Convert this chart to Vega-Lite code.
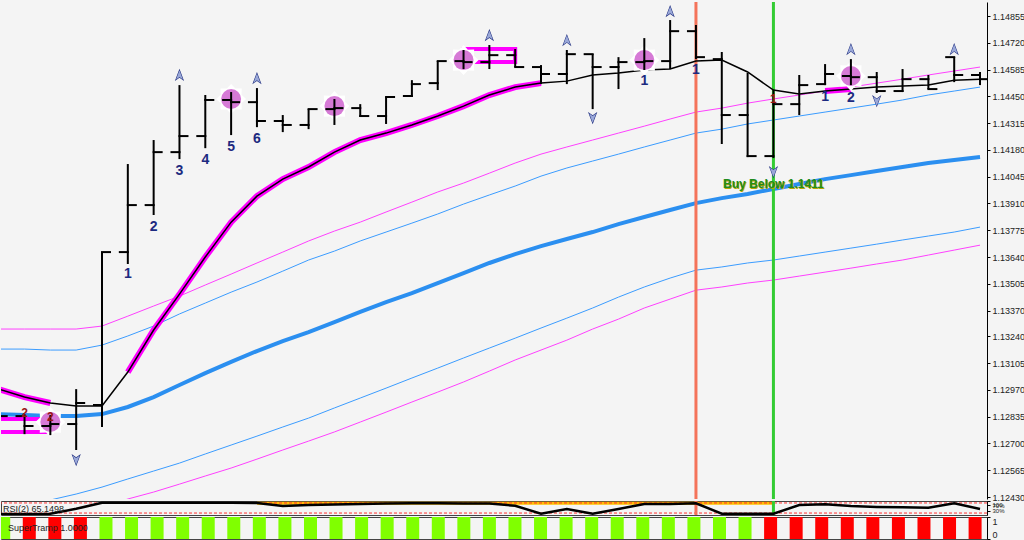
{
"$schema": "https://vega.github.io/schema/vega-lite/v6.json",
"background": "#f4f4f4",
"padding": 0,
"spacing": 2,
"bounds": "flush",
"config": {"view": {"stroke": null}, "axis": {"labelFont": "Liberation Sans", "labelFontSize": 9, "labelColor": "#222", "domainColor": "#000", "tickColor": "#000", "grid": false, "labelOverlap": false}},
"resolve": {"scale": {"x": "independent", "y": "independent", "color": "independent", "shape": "independent", "size": "independent"}},
"datasets": {
"bars": [
{"i":-1,"o":1.12838,"h":1.12858,"l":1.12818,"c":1.12838,"f":1.12974,"ma":1.12848,"um":1.13277,"ub":1.13176,"lb":1.12279,"lm":1.12203,"rsi":7,"st":"up","stv":1,"hl":1},
{"i":0,"o":1.12838,"h":1.12848,"l":1.12747,"c":1.12788,"f":1.12934,"ma":1.12843,"um":1.13277,"ub":1.13176,"lb":1.12354,"lm":1.12253,"rsi":7,"st":"down","stv":1,"hl":1},
{"i":1,"o":1.12788,"h":1.12843,"l":1.12742,"c":1.12798,"f":1.12904,"ma":1.12838,"um":1.13277,"ub":1.13171,"lb":1.12415,"lm":1.12304,"rsi":9,"st":"down","stv":1,"hl":1},
{"i":2,"o":1.12798,"h":1.12974,"l":1.12667,"c":1.12904,"f":1.12889,"ma":1.12838,"um":1.13277,"ub":1.13171,"lb":1.12445,"lm":1.12344,"rsi":44,"st":"down","stv":1},
{"i":3,"o":1.12894,"h":1.13665,"l":1.12783,"c":1.13665,"f":1.12889,"ma":1.12848,"um":1.13292,"ub":1.13196,"lb":1.1248,"lm":1.12379,"rsi":88,"st":"up","stv":1},
{"i":4,"o":1.13665,"h":1.14109,"l":1.13605,"c":1.13902,"f":1.1306,"ma":1.12884,"um":1.13342,"ub":1.13242,"lb":1.12521,"lm":1.1242,"rsi":88,"st":"up","stv":1,"hl":2},
{"i":5,"o":1.13902,"h":1.1423,"l":1.13852,"c":1.14169,"f":1.13272,"ma":1.12934,"um":1.13393,"ub":1.13292,"lb":1.12561,"lm":1.12455,"rsi":88,"st":"up","stv":1,"hl":2},
{"i":6,"o":1.14169,"h":1.14507,"l":1.14134,"c":1.1425,"f":1.13453,"ma":1.12995,"um":1.13443,"ub":1.13353,"lb":1.12601,"lm":1.12495,"rsi":88,"st":"up","stv":1,"hl":2},
{"i":7,"o":1.1425,"h":1.14457,"l":1.14189,"c":1.14432,"f":1.1364,"ma":1.13055,"um":1.13499,"ub":1.13408,"lb":1.12647,"lm":1.12536,"rsi":88,"st":"up","stv":1,"hl":2},
{"i":8,"o":1.14432,"h":1.14472,"l":1.14255,"c":1.14421,"f":1.13816,"ma":1.13111,"um":1.13554,"ub":1.13463,"lb":1.12692,"lm":1.12576,"rsi":88,"st":"up","stv":1,"hl":2},
{"i":9,"o":1.14421,"h":1.14492,"l":1.14295,"c":1.14326,"f":1.13947,"ma":1.13166,"um":1.1361,"ub":1.13514,"lb":1.12737,"lm":1.12621,"rsi":86,"st":"up","stv":1,"hl":2},
{"i":10,"o":1.14326,"h":1.14356,"l":1.1427,"c":1.14306,"f":1.14033,"ma":1.13216,"um":1.13665,"ub":1.13569,"lb":1.12783,"lm":1.12667,"rsi":64,"st":"up","stv":1,"hl":2},
{"i":11,"o":1.14306,"h":1.14386,"l":1.14285,"c":1.14386,"f":1.14094,"ma":1.13262,"um":1.13721,"ub":1.13625,"lb":1.12828,"lm":1.12712,"rsi":72,"st":"up","stv":1,"hl":2},
{"i":12,"o":1.14386,"h":1.14437,"l":1.14306,"c":1.14391,"f":1.14169,"ma":1.13312,"um":1.13771,"ub":1.1367,"lb":1.12879,"lm":1.12758,"rsi":75,"st":"up","stv":1,"hl":2},
{"i":13,"o":1.14391,"h":1.14411,"l":1.14346,"c":1.14351,"f":1.1423,"ma":1.13363,"um":1.13816,"ub":1.13721,"lb":1.12929,"lm":1.12808,"rsi":79,"st":"up","stv":1,"hl":2},
{"i":14,"o":1.14351,"h":1.14447,"l":1.14311,"c":1.14447,"f":1.14265,"ma":1.13413,"um":1.13867,"ub":1.13766,"lb":1.12979,"lm":1.12858,"rsi":82,"st":"up","stv":1,"hl":2},
{"i":15,"o":1.14452,"h":1.14532,"l":1.14447,"c":1.14512,"f":1.14306,"ma":1.13458,"um":1.13917,"ub":1.13811,"lb":1.1303,"lm":1.12909,"rsi":84,"st":"up","stv":1,"hl":2},
{"i":16,"o":1.14517,"h":1.14628,"l":1.14482,"c":1.14628,"f":1.14351,"ma":1.13509,"um":1.13968,"ub":1.13857,"lb":1.1308,"lm":1.12959,"rsi":84,"st":"up","stv":1,"hl":2},
{"i":17,"o":1.14628,"h":1.14684,"l":1.14588,"c":1.14623,"f":1.14401,"ma":1.13559,"um":1.14013,"ub":1.13907,"lb":1.13131,"lm":1.1301,"rsi":82,"st":"up","stv":1,"hl":2},
{"i":18,"o":1.14623,"h":1.14709,"l":1.14588,"c":1.14658,"f":1.14457,"ma":1.1361,"um":1.14063,"ub":1.13953,"lb":1.13181,"lm":1.13065,"rsi":82,"st":"up","stv":1,"hl":2},
{"i":19,"o":1.14658,"h":1.14689,"l":1.14598,"c":1.14598,"f":1.14497,"ma":1.13655,"um":1.14114,"ub":1.13998,"lb":1.13231,"lm":1.13121,"rsi":66,"st":"up","stv":1,"hl":2},
{"i":20,"o":1.14598,"h":1.14608,"l":1.14512,"c":1.14563,"f":1.14517,"ma":1.13695,"um":1.14159,"ub":1.14048,"lb":1.13282,"lm":1.13171,"rsi":9,"st":"up","stv":1,"hl":2},
{"i":21,"o":1.14563,"h":1.14684,"l":1.14512,"c":1.14663,"f":1.14527,"ma":1.13731,"um":1.14195,"ub":1.14089,"lb":1.13332,"lm":1.13221,"rsi":43,"st":"up","stv":1},
{"i":22,"o":1.14663,"h":1.14663,"l":1.14386,"c":1.14598,"f":1.14558,"ma":1.13766,"um":1.1423,"ub":1.14124,"lb":1.13383,"lm":1.13277,"rsi":9,"st":"up","stv":1},
{"i":23,"o":1.14598,"h":1.14648,"l":1.14487,"c":1.14623,"f":1.14568,"ma":1.13806,"um":1.14265,"ub":1.14159,"lb":1.13438,"lm":1.13327,"rsi":43,"st":"up","stv":1},
{"i":24,"o":1.14623,"h":1.14744,"l":1.14583,"c":1.14628,"f":1.14583,"ma":1.13842,"um":1.143,"ub":1.14195,"lb":1.13489,"lm":1.13383,"rsi":79,"st":"up","stv":1},
{"i":25,"o":1.14628,"h":1.14835,"l":1.14588,"c":1.14779,"f":1.14588,"ma":1.13877,"um":1.14336,"ub":1.1423,"lb":1.13534,"lm":1.13428,"rsi":79,"st":"up","stv":1},
{"i":26,"o":1.14779,"h":1.1481,"l":1.14638,"c":1.14648,"f":1.14628,"ma":1.13912,"um":1.14371,"ub":1.14265,"lb":1.13574,"lm":1.13473,"rsi":84,"st":"up","stv":1},
{"i":27,"o":1.14638,"h":1.14674,"l":1.1421,"c":1.14356,"f":1.14633,"ma":1.13937,"um":1.14391,"ub":1.14285,"lb":1.1359,"lm":1.13489,"rsi":9,"st":"up","stv":1},
{"i":28,"o":1.14356,"h":1.14568,"l":1.14144,"c":1.14149,"f":1.14573,"ma":1.13958,"um":1.14416,"ub":1.14311,"lb":1.1361,"lm":1.13509,"rsi":9,"st":"up","stv":1},
{"i":29,"o":1.14149,"h":1.14482,"l":1.14139,"c":1.14411,"f":1.14482,"ma":1.13983,"um":1.14437,"ub":1.14331,"lb":1.13625,"lm":1.13524,"rsi":9,"st":"down","stv":1},
{"i":30,"o":1.14411,"h":1.14558,"l":1.14356,"c":1.14507,"f":1.14462,"ma":1.14008,"um":1.14457,"ub":1.14351,"lb":1.13645,"lm":1.13544,"rsi":71,"st":"down","stv":1},
{"i":31,"o":1.14512,"h":1.14613,"l":1.14507,"c":1.14563,"f":1.14477,"ma":1.14033,"um":1.14477,"ub":1.14371,"lb":1.13665,"lm":1.13564,"rsi":76,"st":"down","stv":1,"hl":3},
{"i":32,"o":1.14553,"h":1.14638,"l":1.14507,"c":1.14547,"f":1.14487,"ma":1.14053,"um":1.14497,"ub":1.14391,"lb":1.13685,"lm":1.13584,"rsi":64,"st":"down","stv":1,"hl":3},
{"i":33,"o":1.14547,"h":1.14573,"l":1.14467,"c":1.14477,"f":1.14497,"ma":1.14074,"um":1.14517,"ub":1.14411,"lb":1.13705,"lm":1.13605,"rsi":58,"st":"down","stv":1},
{"i":34,"o":1.14477,"h":1.14588,"l":1.14472,"c":1.14537,"f":1.14502,"ma":1.14094,"um":1.14537,"ub":1.14432,"lb":1.13726,"lm":1.13625,"rsi":55,"st":"down","stv":1},
{"i":35,"o":1.14537,"h":1.14558,"l":1.14487,"c":1.14487,"f":1.14507,"ma":1.14114,"um":1.14558,"ub":1.14457,"lb":1.13746,"lm":1.1365,"rsi":52,"st":"down","stv":1},
{"i":36,"o":1.14648,"h":1.14648,"l":1.14522,"c":1.14558,"f":1.14532,"ma":1.14129,"um":1.14578,"ub":1.14477,"lb":1.13766,"lm":1.13675,"rsi":84,"st":"down","stv":1},
{"i":37,"o":1.14558,"h":1.14573,"l":1.14507,"c":1.14537,"f":1.14537,"ma":1.14144,"um":1.14598,"ub":1.14497,"lb":1.13791,"lm":1.137,"rsi":43,"st":"down","stv":1}
],
"arrows": [
{"i":6,"v":1.14558,"dir":"up"},{"i":9,"v":1.14542,"dir":"up"},{"i":18,"v":1.14759,"dir":"up"},{"i":21,"v":1.14734,"dir":"up"},{"i":25,"v":1.1488,"dir":"up"},{"i":32,"v":1.14689,"dir":"up"},{"i":36,"v":1.14689,"dir":"up"},
{"i":2,"v":1.12616,"dir":"down"},{"i":22,"v":1.14341,"dir":"down"},{"i":29,"v":1.14068,"dir":"down"},{"i":33,"v":1.14426,"dir":"down"}
],
"circles": [
{"i":1,"v":1.12808},{"i":8,"v":1.14437},{"i":12,"v":1.14401},{"i":17,"v":1.14633},{"i":24,"v":1.14633},{"i":32,"v":1.14553}
],
"labels": [
{"i":4,"v":1.13554,"t":"1","k":"b"},{"i":5,"v":1.13791,"t":"2","k":"b"},{"i":6,"v":1.14074,"t":"3","k":"b"},{"i":7,"v":1.14129,"t":"4","k":"b"},{"i":8,"v":1.14195,"t":"5","k":"b"},{"i":9,"v":1.14235,"t":"6","k":"b"},
{"i":24,"v":1.14527,"t":"1","k":"b"},{"i":26,"v":1.14583,"t":"1","k":"b"},{"i":31,"v":1.14447,"t":"1","k":"b"},{"i":32,"v":1.14442,"t":"2","k":"b"},
{"i":0,"v":1.12853,"t":"2","k":"r"},{"i":1,"v":1.12833,"t":"2","k":"r"},{"i":29,"v":1.14437,"t":"1","k":"r"}
],
"rects": [
{"i":-1.5,"i2":1.0,"v1":1.12823,"v2":1.12758},
{"i":17,"i2":19,"v1":1.14689,"v2":1.14623}
],
"vlines": [{"i":26,"k":"o"},{"i":29,"k":"g"}],
"note": [{"i":29,"v":1.14008,"t":"Buy Below 1.1411"}],
"band": [{"i":9,"i2":29,"lo":74,"hi":94}],
"levels": [{"lv":86},{"lv":14}]
},
"vconcat": [
{
"width": 986, "height": 497,
"encoding": {"x": {"field": "i", "type": "quantitative", "scale": {"domain": [-0.911, 37.27], "nice": false, "zero": false}, "axis": null}},
"layer": [
{"data": {"name": "bars"}, "mark": {"type": "line", "color": "#ff40ff", "strokeWidth": 1, "clip": true},
 "encoding": {"y": {"field": "um", "type": "quantitative", "scale": {"domain": [1.1242, 1.14926], "nice": false, "zero": false}, "title": null,
  "axis": {"orient": "right", "values": [1.14855, 1.1472, 1.14585, 1.1445, 1.14315, 1.1418, 1.14045, 1.1391, 1.13775, 1.1364, 1.13505, 1.1337, 1.1324, 1.13105, 1.1297, 1.12835, 1.127, 1.12565, 1.1243], "tickCount": 50, "format": ".5f", "tickSize": 3, "labelPadding": 2, "labelFlush": false, "labelOverlap": false, "domainWidth": 1}}}},
{"data": {"name": "bars"}, "mark": {"type": "line", "color": "#ff40ff", "strokeWidth": 1, "clip": true},
 "encoding": {"y": {"field": "lm", "type": "quantitative", "scale": {"domain": [1.1242, 1.14926], "nice": false, "zero": false}, "title": null}}},
{"data": {"name": "bars"}, "mark": {"type": "line", "color": "#3b9cff", "strokeWidth": 1, "clip": true},
 "encoding": {"y": {"field": "ub", "type": "quantitative", "scale": {"domain": [1.1242, 1.14926], "nice": false, "zero": false}, "title": null}}},
{"data": {"name": "bars"}, "mark": {"type": "line", "color": "#3b9cff", "strokeWidth": 1, "clip": true},
 "encoding": {"y": {"field": "lb", "type": "quantitative", "scale": {"domain": [1.1242, 1.14926], "nice": false, "zero": false}, "title": null}}},
{"data": {"name": "bars"}, "mark": {"type": "line", "color": "#2b8ff0", "strokeWidth": 4, "clip": true},
 "encoding": {"y": {"field": "ma", "type": "quantitative", "scale": {"domain": [1.1242, 1.14926], "nice": false, "zero": false}, "title": null}}},
{"data": {"name": "vlines"}, "mark": {"type": "rule", "strokeWidth": 3},
 "encoding": {"color": {"condition": {"test": "datum.k == 'g'", "value": "#33cc33"}, "value": "#f4735a"}}},
{"data": {"name": "bars"}, "transform": [{"filter": "isValid(datum.hl)"}], "mark": {"type": "line", "color": "#ff00ff", "strokeWidth": 6, "clip": true},
 "encoding": {"y": {"field": "f", "type": "quantitative", "scale": {"domain": [1.1242, 1.14926], "nice": false, "zero": false}, "title": null}, "detail": {"field": "hl", "type": "nominal"}}},
{"data": {"name": "bars"}, "mark": {"type": "line", "color": "#000000", "strokeWidth": 1.5, "clip": true},
 "encoding": {"y": {"field": "f", "type": "quantitative", "scale": {"domain": [1.1242, 1.14926], "nice": false, "zero": false}, "title": null}}},
{"data": {"name": "rects"}, "mark": {"type": "rect", "fill": "transparent", "stroke": "#ff00ff", "strokeWidth": 4, "clip": true},
 "encoding": {"x2": {"field": "i2"}, "y": {"field": "v1", "type": "quantitative", "scale": {"domain": [1.1242, 1.14926], "nice": false, "zero": false}, "title": null}, "y2": {"field": "v2"}}},
{"data": {"name": "circles"}, "mark": {"type": "point", "shape": "M0,-1L0.287,-0.693L0.707,-0.707L0.693,-0.287L1,0L0.693,0.287L0.707,0.707L0.287,0.693L0,1L-0.287,0.693L-0.707,0.707L-0.693,0.287L-1,0L-0.693,-0.287L-0.707,-0.707L-0.287,-0.693Z", "filled": true, "color": "#ffffff", "size": 900, "opacity": 1, "clip": true},
 "encoding": {"y": {"field": "v", "type": "quantitative", "scale": {"domain": [1.1242, 1.14926], "nice": false, "zero": false}, "title": null}}},
{"data": {"name": "circles"}, "mark": {"type": "circle", "color": "#d67ad6", "size": 400, "opacity": 1, "clip": true},
 "encoding": {"y": {"field": "v", "type": "quantitative", "scale": {"domain": [1.1242, 1.14926], "nice": false, "zero": false}, "title": null}}},
{"data": {"name": "bars"}, "mark": {"type": "rule", "color": "#000000", "strokeWidth": 2, "clip": true},
 "encoding": {"y": {"field": "l", "type": "quantitative", "scale": {"domain": [1.1242, 1.14926], "nice": false, "zero": false}, "title": null}, "y2": {"field": "h"}}},
{"data": {"name": "bars"}, "mark": {"type": "rule", "color": "#000000", "strokeWidth": 2, "xOffset": -9, "x2Offset": 1, "clip": true},
 "encoding": {"x2": {"field": "i"}, "y": {"field": "o", "type": "quantitative", "scale": {"domain": [1.1242, 1.14926], "nice": false, "zero": false}, "title": null}}},
{"data": {"name": "bars"}, "mark": {"type": "rule", "color": "#000000", "strokeWidth": 2, "xOffset": -1, "x2Offset": 9, "clip": true},
 "encoding": {"x2": {"field": "i"}, "y": {"field": "c", "type": "quantitative", "scale": {"domain": [1.1242, 1.14926], "nice": false, "zero": false}, "title": null}}},
{"data": {"name": "arrows"}, "mark": {"type": "point", "filled": true, "color": "#1b2a7c", "size": 150, "opacity": 1},
 "encoding": {"y": {"field": "v", "type": "quantitative", "scale": {"domain": [1.1242, 1.14926], "nice": false, "zero": false}, "title": null},
  "shape": {"field": "dir", "type": "nominal", "scale": {"domain": ["up", "down"], "range": ["M0,-1L0.75,1L0,0.45L-0.75,1Z", "M0,1L0.75,-1L0,-0.45L-0.75,-1Z"]}, "legend": null}}},
{"data": {"name": "arrows"}, "mark": {"type": "point", "filled": true, "color": "#9aa8d8", "size": 90, "opacity": 1},
 "encoding": {"y": {"field": "v", "type": "quantitative", "scale": {"domain": [1.1242, 1.14926], "nice": false, "zero": false}, "title": null},
  "shape": {"field": "dir", "type": "nominal", "scale": {"domain": ["up", "down"], "range": ["M0.1,-0.6L0.75,1L0.1,0.5Z", "M0.1,0.6L0.75,-1L0.1,-0.5Z"]}, "legend": null}}},
{"data": {"name": "labels"}, "mark": {"type": "text", "font": "Liberation Sans Narrow, Liberation Sans", "fontWeight": "bold", "align": "center", "baseline": "middle"},
 "encoding": {"y": {"field": "v", "type": "quantitative", "scale": {"domain": [1.1242, 1.14926], "nice": false, "zero": false}, "title": null},
  "text": {"field": "t"},
  "color": {"condition": {"test": "datum.k == 'r'", "value": "#9a1414"}, "value": "#1c2a80"},
  "size": {"condition": {"test": "datum.k == 'r'", "value": 12}, "value": 14}}},
{"data": {"name": "note"}, "mark": {"type": "text", "font": "Liberation Sans Narrow, Liberation Sans", "fontWeight": "bold", "fontSize": 12, "color": "#b8a400", "align": "center", "baseline": "middle", "dx": 1, "dy": 1},
 "encoding": {"y": {"field": "v", "type": "quantitative", "scale": {"domain": [1.1242, 1.14926], "nice": false, "zero": false}, "title": null}, "text": {"field": "t"}}},
{"data": {"name": "note"}, "mark": {"type": "text", "font": "Liberation Sans Narrow, Liberation Sans", "fontWeight": "bold", "fontSize": 12, "color": "#1f8c1f", "align": "center", "baseline": "middle"},
 "encoding": {"y": {"field": "v", "type": "quantitative", "scale": {"domain": [1.1242, 1.14926], "nice": false, "zero": false}, "title": null}, "text": {"field": "t"}}}
]
},
{
"width": 986, "height": 14,
"view": {"stroke": "#444444"},
"layer": [
{"data": {"name": "band"}, "mark": {"type": "rect", "color": "#ffc000"},
 "encoding": {"x": {"field": "i", "type": "quantitative", "scale": {"domain": [-0.911, 37.27], "nice": false, "zero": false}, "axis": null}, "x2": {"field": "i2"},
  "y": {"field": "lo", "type": "quantitative", "scale": {"domain": [0, 100], "nice": false}, "title": null,
   "axis": {"orient": "right", "values": [100, 70, 30], "tickCount": 10, "labelExpr": "datum.value == 100 ? '100' : datum.value + '%'", "labelFontSize": 6, "tickSize": 3, "labelPadding": 2, "labelOverlap": false, "labelFlush": true}},
  "y2": {"field": "hi"}}},
{"data": {"name": "levels"}, "mark": {"type": "rule", "color": "#ff3030", "strokeDash": [3, 2], "strokeWidth": 1},
 "encoding": {"y": {"field": "lv", "type": "quantitative", "scale": {"domain": [0, 100], "nice": false}, "title": null}}},
{"data": {"name": "vlines"}, "mark": {"type": "rule", "strokeWidth": 3},
 "encoding": {"x": {"field": "i", "type": "quantitative", "scale": {"domain": [-0.911, 37.27], "nice": false, "zero": false}, "axis": null},
  "color": {"condition": {"test": "datum.k == 'g'", "value": "#33cc33"}, "value": "#f4735a"}}},
{"data": {"name": "bars"}, "mark": {"type": "line", "color": "#000000", "strokeWidth": 2.5, "clip": true},
 "encoding": {"x": {"field": "i", "type": "quantitative", "scale": {"domain": [-0.911, 37.27], "nice": false, "zero": false}, "axis": null},
  "y": {"field": "rsi", "type": "quantitative", "scale": {"domain": [0, 100], "nice": false}, "title": null}}},
{"data": {"values": [{"t": "RSI(2) 65.1498"}]}, "mark": {"type": "text", "align": "left", "baseline": "middle", "fontSize": 9, "font": "Liberation Sans", "color": "#222222", "dx": 2},
 "encoding": {"x": {"datum": -0.911, "type": "quantitative", "scale": {"domain": [-0.911, 37.27], "nice": false, "zero": false}, "axis": null},
  "y": {"datum": 45, "type": "quantitative", "scale": {"domain": [0, 100], "nice": false}, "title": null}, "text": {"field": "t"}}}
]
},
{
"width": 986, "height": 22,
"view": {"stroke": "#444444"},
"layer": [
{"data": {"name": "bars"}, "mark": {"type": "bar", "size": 13, "clip": true},
 "encoding": {"x": {"field": "i", "type": "quantitative", "scale": {"domain": [-0.911, 37.27], "nice": false, "zero": false}, "axis": null},
  "y": {"field": "stv", "type": "quantitative", "scale": {"domain": [0, 1], "nice": false}, "title": null,
   "axis": {"orient": "right", "values": [0, 1], "tickCount": 5, "format": "d", "tickSize": 3, "labelPadding": 2, "labelFlush": true}},
  "y2": {"datum": 0},
  "color": {"field": "st", "type": "nominal", "scale": {"domain": ["up", "down"], "range": ["#80ff00", "#ff0000"]}, "legend": null}}},
{"data": {"values": [{"t": "SuperTramp 1.0000"}]}, "mark": {"type": "text", "align": "left", "baseline": "middle", "fontSize": 9, "font": "Liberation Sans", "color": "#222222", "dx": 2},
 "encoding": {"x": {"datum": -0.911, "type": "quantitative", "scale": {"domain": [-0.911, 37.27], "nice": false, "zero": false}, "axis": null},
  "y": {"datum": 0.5, "type": "quantitative", "scale": {"domain": [0, 1], "nice": false}, "title": null}, "text": {"field": "t"}}}
]
}
]
}
